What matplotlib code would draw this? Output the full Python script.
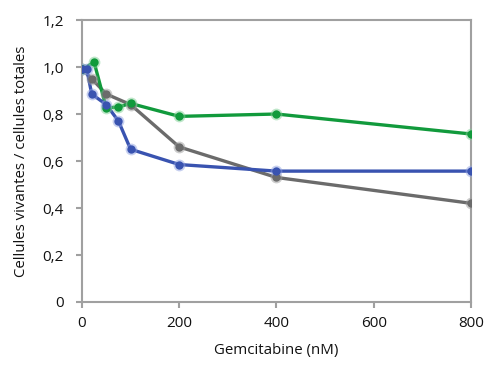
import matplotlib
matplotlib.use("Agg")
import matplotlib.pyplot as plt
from matplotlib.ticker import FuncFormatter

plt.rcParams['font.family'] = ['Open Sans', 'DejaVu Sans']

gray_x = [0, 20, 50, 100, 200, 400, 800]
gray_y = [0.99, 0.95, 0.885, 0.84, 0.66, 0.53, 0.42]
green_x = [0, 25, 50, 75, 100, 200, 400, 800]
green_y = [0.99, 1.02, 0.826, 0.83, 0.845, 0.79, 0.80, 0.715]
blue_x = [0, 10, 20, 50, 75, 100, 200, 400, 800]
blue_y = [0.99, 0.99, 0.885, 0.84, 0.77, 0.65, 0.585, 0.557, 0.557]

x_ticks = [0, 200, 400, 600, 800]
y_ticks = [0, 0.2, 0.4, 0.6, 0.8, 1.0, 1.2]
x_label = "Gemcitabine (nM)"
y_label = "Cellules vivantes / cellules totales"

series = [
    (gray_x, gray_y, '#6b6b6b', '#9a9a9a'),
    (green_x, green_y, '#119a3c', '#7fcf95'),
    (blue_x, blue_y, '#3953b0', '#8fa0e0'),
]

fig = plt.figure(figsize=(4.88, 3.71), dpi=100)
ax = fig.add_axes([0.168, 0.186, 0.797, 0.760])

for xs, ys, c, glow in series:
    ax.plot(xs, ys, color=c, lw=2.4, zorder=2)
    ax.plot(xs, ys, ls='none', marker='o', ms=8.5, color=glow, alpha=0.5, mec='none', zorder=3)
    ax.plot(xs, ys, ls='none', marker='o', ms=6, color=c, mec='none', zorder=4)

ax.set_xlim(0, 800)
ax.set_ylim(0, 1.2)
ax.set_xticks(x_ticks)
ax.set_yticks(y_ticks)
ax.yaxis.set_major_formatter(FuncFormatter(lambda v, p: '0' if v == 0 else f"{v:.1f}".replace('.', ',')))
for s in ax.spines.values():
    s.set_color('#a0a0a0')
    s.set_linewidth(1.5)
ax.tick_params(direction='out', length=4, width=1.5, color='#a0a0a0', labelsize=11, labelcolor='#111111')
ax.tick_params(axis='x', pad=6)
ax.tick_params(axis='y', pad=9)
ax.set_xlabel(x_label, fontsize=10.8, labelpad=9, color='#111111')
ax.set_ylabel(y_label, fontsize=10.8, labelpad=10, color='#111111')
for sp in ax.spines.values():
    sp.set_clip_on(False)

fig.savefig('out.png', dpi=100)
